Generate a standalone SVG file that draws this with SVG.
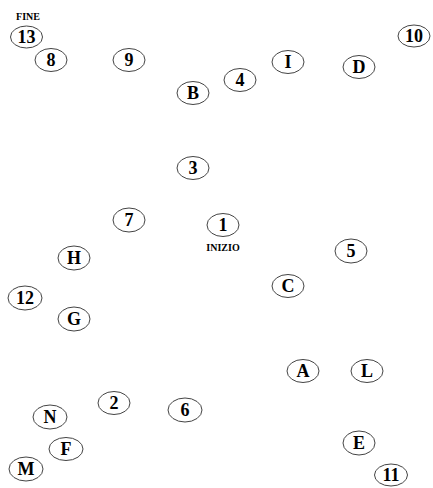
<svg xmlns="http://www.w3.org/2000/svg" width="433" height="488" viewBox="0 0 433 488">
<style>
.n ellipse{fill:#fff;stroke:#444;stroke-width:1}
.n text{font-family:"Liberation Serif",serif;font-weight:bold;font-size:18px;text-anchor:middle;fill:#000}
.lbl{font-family:"Liberation Serif",serif;font-weight:bold;font-size:10px;text-anchor:middle;fill:#000}
</style>
<rect width="433" height="488" fill="#fff"/>
<g id="connectors"></g>
<g id="n13" class="n"><ellipse cx="26.5" cy="37" rx="16" ry="11"/><text x="26.5" y="43">13</text></g>
<text class="lbl" x="28" y="20">FINE</text>
<g id="n8" class="n"><ellipse cx="51" cy="60" rx="16" ry="11.5"/><text x="51" y="66">8</text></g>
<g id="n9" class="n"><ellipse cx="129" cy="60" rx="16" ry="11.5"/><text x="129" y="66">9</text></g>
<g id="nB" class="n"><ellipse cx="193" cy="93" rx="16" ry="11.5"/><text x="193" y="99">B</text></g>
<g id="n4" class="n"><ellipse cx="240" cy="80" rx="16" ry="11.5"/><text x="240" y="86">4</text></g>
<g id="nI" class="n"><ellipse cx="288" cy="62" rx="16" ry="11.5"/><text x="288" y="68">I</text></g>
<g id="n10" class="n"><ellipse cx="414" cy="36" rx="16" ry="11"/><text x="414" y="42">10</text></g>
<g id="nD" class="n"><ellipse cx="359" cy="67" rx="16" ry="11.5"/><text x="359" y="73">D</text></g>
<g id="n3" class="n"><ellipse cx="193" cy="168" rx="16" ry="11.5"/><text x="193" y="174">3</text></g>
<g id="n1" class="n"><ellipse cx="223" cy="225" rx="16" ry="11.5"/><text x="223" y="231">1</text></g>
<text class="lbl" x="223" y="251">INIZIO</text>
<g id="n7" class="n"><ellipse cx="129" cy="220" rx="16" ry="12"/><text x="129" y="226">7</text></g>
<g id="nH" class="n"><ellipse cx="74" cy="258" rx="16" ry="12"/><text x="74" y="264">H</text></g>
<g id="n12" class="n"><ellipse cx="25" cy="298" rx="17" ry="12"/><text x="25" y="304">12</text></g>
<g id="nG" class="n"><ellipse cx="74" cy="319" rx="16" ry="12"/><text x="74" y="325">G</text></g>
<g id="n5" class="n"><ellipse cx="351" cy="251" rx="16" ry="12"/><text x="351" y="257">5</text></g>
<g id="nC" class="n"><ellipse cx="288" cy="286" rx="16" ry="11.5"/><text x="288" y="292">C</text></g>
<g id="nA" class="n"><ellipse cx="303" cy="371" rx="16" ry="11.5"/><text x="303" y="377">A</text></g>
<g id="nL" class="n"><ellipse cx="367" cy="371" rx="16" ry="11.5"/><text x="367" y="377">L</text></g>
<g id="n2" class="n"><ellipse cx="114" cy="403" rx="16" ry="11.5"/><text x="114" y="409">2</text></g>
<g id="n6" class="n"><ellipse cx="185" cy="410" rx="17" ry="12"/><text x="185" y="416">6</text></g>
<g id="nN" class="n"><ellipse cx="50" cy="417" rx="17" ry="12"/><text x="50" y="423">N</text></g>
<g id="nF" class="n"><ellipse cx="66" cy="449" rx="17" ry="11.5"/><text x="66" y="455">F</text></g>
<g id="nM" class="n"><ellipse cx="26" cy="469" rx="17" ry="12"/><text x="26" y="475">M</text></g>
<g id="nE" class="n"><ellipse cx="359" cy="443" rx="16" ry="12"/><text x="359" y="449">E</text></g>
<g id="n11" class="n"><ellipse cx="391" cy="475" rx="16.5" ry="11"/><text x="391" y="481">11</text></g>
</svg>
